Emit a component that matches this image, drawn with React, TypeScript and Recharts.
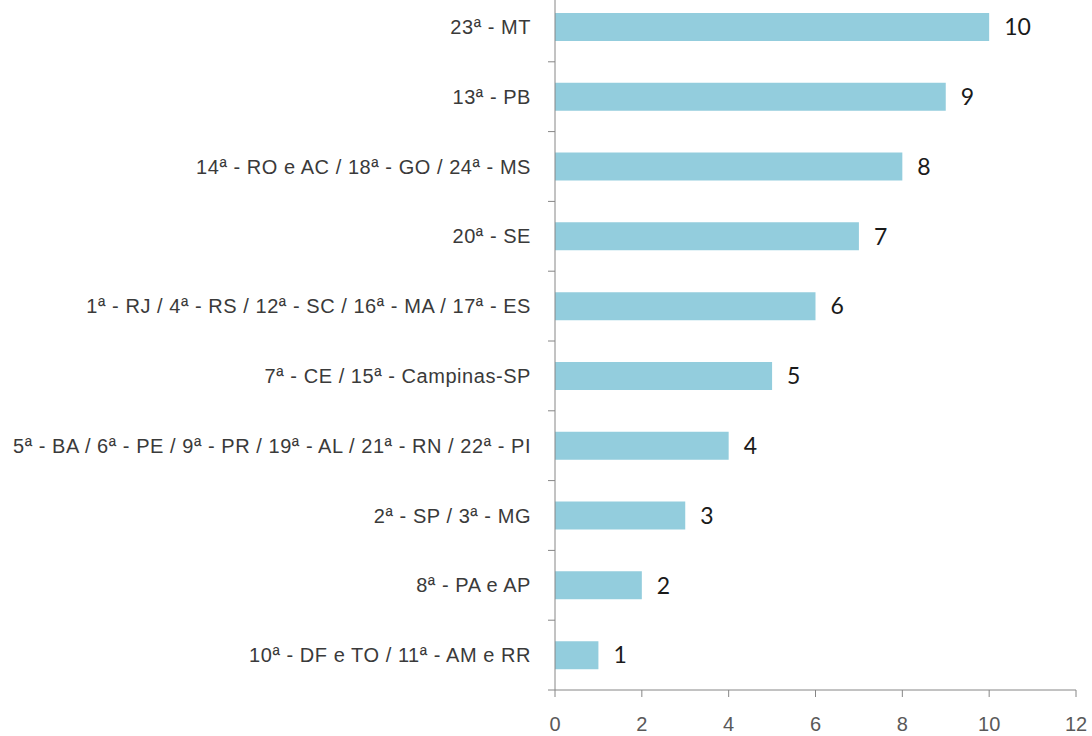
import React from 'react';
import { BarChart, Bar, XAxis, YAxis, LabelList } from 'recharts';

const categories = [
  '23ª - MT',
  '13ª - PB',
  '14ª - RO e AC / 18ª - GO / 24ª - MS',
  '20ª - SE',
  '1ª - RJ / 4ª - RS / 12ª - SC / 16ª - MA / 17ª - ES',
  '7ª - CE / 15ª - Campinas-SP',
  '5ª - BA / 6ª - PE / 9ª - PR / 19ª - AL / 21ª - RN / 22ª - PI',
  '2ª - SP / 3ª - MG',
  '8ª - PA e AP',
  '10ª - DF e TO / 11ª - AM e RR',
];
const values = [10, 9, 8, 7, 6, 5, 4, 3, 2, 1];
const xTicks = [0, 2, 4, 6, 8, 10, 12];

const data = categories.map((name, i) => ({ name, value: values[i] }));

const AXIS = '#868686';
const FONT = "'Liberation Sans', Arial, sans-serif";

const YTick = (props: any) => {
  const { x, y, payload, index } = props;
  const off = payload && payload.offset != null ? payload.offset : 35;
  return (
    <g>
      <text
        x={x - 24}
        y={y}
        textAnchor="end"
        dominantBaseline="central"
        fill="#3a3a3a"
        fontSize={20}
        letterSpacing={0.55}
        fontFamily={FONT}
      >
        {payload.value}
      </text>
      <line x1={x} x2={x - 7} y1={y + off} y2={y + off} stroke={AXIS} strokeWidth={1} />
      {index === 0 && (
        <line x1={x} x2={x - 7} y1={y - off} y2={y - off} stroke={AXIS} strokeWidth={1} />
      )}
    </g>
  );
};

export default function App() {
  return (
    <div style={{ position: 'absolute', left: 0, top: 0, width: 1092, height: 736, overflow: 'hidden', background: '#fff' }}>
      <div style={{ position: 'absolute', left: 0, top: -30 }}>
        <BarChart
          width={1092}
          height={766}
          data={data}
          layout="vertical"
          margin={{ top: 22, right: 16, bottom: 0, left: 0 }}
          barCategoryGap="30%"
        >
          <XAxis
            type="number"
            domain={[0, 12]}
            ticks={xTicks}
            interval={0}
            height={46}
            tickSize={7}
            tickMargin={20}
            stroke={AXIS}
            tick={{ fill: '#595959', fontSize: 20, fontFamily: FONT }}
          />
          <YAxis
            type="category"
            dataKey="name"
            width={555}
            interval={0}
            tickLine={false}
            tickSize={0}
            tickMargin={0}
            stroke={AXIS}
            tick={<YTick />}
          />
          <Bar dataKey="value" fill="#93CDDD" isAnimationActive={false}>
            <LabelList
              dataKey="value"
              position="right"
              offset={15}
              fill="#1a1a1a"
              fontSize={23}
              fontFamily="Lato, 'Open Sans', sans-serif"
            />
          </Bar>
        </BarChart>
      </div>
    </div>
  );
}
